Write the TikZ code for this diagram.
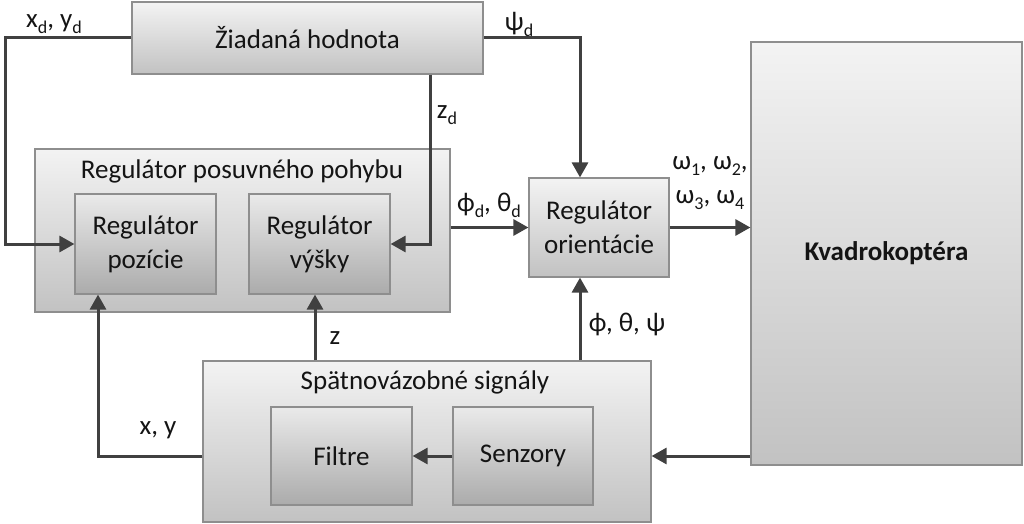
\documentclass[tikz,border=0pt]{standalone}
\usepackage{fontspec}
\setmainfont{Carlito}
\usetikzlibrary{arrows.meta}
\definecolor{txt}{HTML}{141414}
\definecolor{bordergray}{HTML}{8E8E8E}
\definecolor{linegray}{HTML}{404040}
\definecolor{outtop}{HTML}{F3F3F3}
\definecolor{outbot}{HTML}{C2C2C2}
\definecolor{intop}{HTML}{EAEAEA}
\definecolor{inbot}{HTML}{ABABAB}
\newcommand{\sbs}[1]{\raisebox{-0.22em}{\fontsize{18}{20}\selectfont #1}}
\begin{document}
\begin{tikzpicture}[x=1pt,y=-1pt,
 every node/.style={font=\fontsize{27}{34}\selectfont, text=txt},
 outerbox/.style={draw=bordergray, line width=1.2pt, top color=outtop, bottom color=outbot, inner sep=0pt},
 innerbox/.style={draw=bordergray, line width=1.2pt, top color=intop, bottom color=inbot, align=center, inner sep=0pt},
 conn/.style={draw=linegray, line width=3pt},
 arr/.style={conn, -{Triangle[length=15pt,width=16pt]}},
 lbl/.style={inner sep=0pt}
]
\useasboundingbox (0,0) rectangle (1024,524);
% blocks
\node[outerbox, minimum width=351pt, minimum height=72pt] (zh) at (307.5,38) {Žiadaná hodnota};
\node[outerbox, minimum width=415pt, minimum height=163pt] (rp) at (242.5,230.5) {};
\node[lbl] (rpt) at (242,171) {Regulátor posuvného pohybu};
\node[innerbox, minimum width=141pt, minimum height=100pt] (poz) at (145.5,244) {Regulátor\\pozície};
\node[innerbox, minimum width=141pt, minimum height=100pt] (vys) at (319.5,244) {Regulátor\\výšky};
\node[outerbox, align=center, minimum width=140pt, minimum height=99pt] (ori) at (599,227.5) {Regulátor\\orientácie};
\node[outerbox, minimum width=271pt, minimum height=423pt, font=\fontsize{27}{34}\selectfont\bfseries] (kv) at (886.5,253.5) {Kvadrokoptéra};
\node[outerbox, minimum width=448pt, minimum height=161pt] (sp) at (427,441.5) {};
\node[lbl] (spt) at (425,382) {Spätnovázobné signály};
\node[innerbox, minimum width=141pt, minimum height=98pt] (fil) at (341.5,456) {Filtre};
\node[innerbox, minimum width=140pt, minimum height=98pt] (sen) at (523,456) {Senzory};
% helper coordinates
\coordinate (ox) at (580,0);
\coordinate (zx) at (315,0);
\coordinate (xx) at (98,0);
\coordinate (lx) at (5,0);
\coordinate (zdx) at (430,0);
% connectors
\draw[arr] (zh.west) -- (lx |- zh.west) |- (poz.west);
\draw[arr] (zh.east) -| (ox |- ori.north);
\draw[arr] (zdx |- zh.south) |- (vys.east);
\draw[arr] (rp.east |- ori.west) -- (ori.west);
\draw[arr] (ori.east) -- (ori.east -| kv.west);
\draw[arr] (kv.west |- fil.east) -- (sp.east |- fil.east);
\draw[arr] (ox |- sp.north) -- (ox |- ori.south);
\draw[arr] (zx |- sp.north) -- (zx |- vys.south);
\draw[arr] (sp.west |- fil.west) -| (xx |- poz.south);
\draw[arr] (sen.west) -- (fil.east);
% labels
\node[lbl] (l1) at (54,24) {x\sbs{d}, y\sbs{d}};
\node[lbl] (l2) at (519,24) {ψ\sbs{d}};
\node[lbl] (l3) at (447,115) {z\sbs{d}};
\node[lbl] (l4) at (489,205) {ϕ\sbs{d}, θ\sbs{d}};
\node[lbl] (l5) at (710,166) {ω\sbs{1}, ω\sbs{2},};
\node[lbl] (l6) at (710,200) {ω\sbs{3}, ω\sbs{4}};
\node[lbl] (l7) at (627,324) {ϕ, θ, ψ};
\node[lbl] (l8) at (335,338) {z};
\node[lbl] (l9) at (158,430) {x, y};
\end{tikzpicture}
\end{document}
